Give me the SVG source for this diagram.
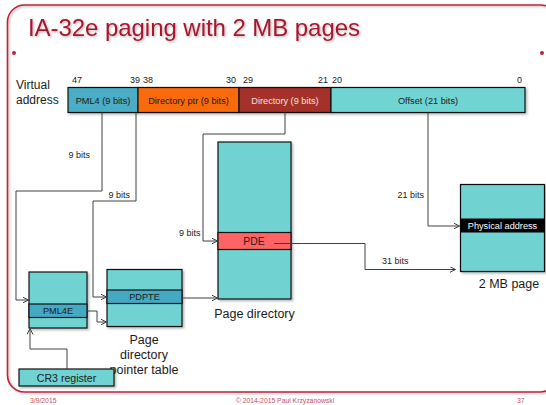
<svg xmlns="http://www.w3.org/2000/svg" width="546" height="405" viewBox="0 0 546 405">
<defs>
<style>
text{font-family:"Liberation Sans",Arial,sans-serif;fill:#1a1a1a}
.frame{fill:none;stroke:#b8283d;stroke-width:1.6}
.tbl{fill:#6fd3d1;stroke:#111;stroke-width:1.2}
.row{stroke:#111;stroke-width:1.2}
.bar{stroke:#111;stroke-width:1.2}
.conn{fill:none;stroke:#404040;stroke-width:1}
.bit{font-size:9px}
.lbl{font-size:9px}
.cap{font-size:12.5px}
.foot{font-size:6.8px;fill:#c8505a}
</style>
<marker id="arr" markerWidth="8" markerHeight="8" refX="6" refY="3" orient="auto" markerUnits="userSpaceOnUse">
<path d="M0,0 L6,3 L0,6" fill="none" stroke="#404040" stroke-width="1"/>
</marker>
<filter id="sh" x="-10%" y="-10%" width="130%" height="130%">
<feDropShadow dx="1.5" dy="1.5" stdDeviation="1" flood-color="#000" flood-opacity="0.3"/>
</filter>
<filter id="tsh" x="-5%" y="-20%" width="110%" height="150%">
<feDropShadow dx="1.2" dy="1.2" stdDeviation="0.8" flood-color="#000" flood-opacity="0.3"/>
</filter>
</defs>

<g id="frame">
<rect class="frame" x="7.5" y="5" width="550" height="387" rx="17" filter="url(#tsh)"/>
<line x1="14" y1="53" x2="542" y2="53" stroke="#b8283d" stroke-width="1.6" filter="url(#tsh)"/>
<circle cx="14" cy="53" r="2" fill="#b8283d"/>
<circle cx="542" cy="53" r="2" fill="#b8283d"/>
<text x="28" y="36" font-size="24" style="fill:#a6192e" filter="url(#tsh)" textLength="332">IA-32e paging with 2 MB pages</text>
</g>

<g id="virtual-address">
<text x="16" y="89" font-size="12">Virtual</text>
<text x="16" y="104" font-size="12">address</text>
<g filter="url(#sh)">
<rect class="bar" x="68" y="87.5" width="70" height="25" fill="#4bacc6"/>
<rect class="bar" x="138" y="87.5" width="101" height="25" fill="#f96b0c"/>
<rect class="bar" x="239" y="87.5" width="92" height="25" fill="#a5302a"/>
<rect class="bar" x="331" y="87.5" width="194" height="25" fill="#70d4d2"/>
</g>
<text x="103" y="104" font-size="9.2" text-anchor="middle">PML4 (9 bits)</text>
<text x="188.5" y="104" font-size="9.2" text-anchor="middle">Directory ptr (9 bits)</text>
<text x="285" y="104" font-size="9.2" text-anchor="middle" style="fill:#f4e0dc">Directory (9 bits)</text>
<text x="428" y="104" font-size="9.2" text-anchor="middle">Offset (21 bits)</text>
<text class="bit" x="72" y="83">47</text>
<text class="bit" x="130" y="83">39</text>
<text class="bit" x="143" y="83">38</text>
<text class="bit" x="226" y="83">30</text>
<text class="bit" x="243" y="83">29</text>
<text class="bit" x="318" y="83">21</text>
<text class="bit" x="332" y="83">20</text>
<text class="bit" x="517" y="83">0</text>
</g>

<g id="pml4-table">
<rect class="tbl" x="29" y="272" width="58" height="56" filter="url(#sh)"/>
<rect class="row" x="29" y="304" width="58" height="13.5" fill="#45a9c4"/>
<text x="58" y="314" font-size="9.2" text-anchor="middle">PML4E</text>
</g>

<g id="pdpt">
<rect class="tbl" x="107" y="269.5" width="75" height="57" filter="url(#sh)"/>
<rect class="row" x="107" y="290" width="75" height="13.5" fill="#45a9c4"/>
<text x="144.5" y="300" font-size="9.2" text-anchor="middle">PDPTE</text>
<text class="cap" x="144" y="344" text-anchor="middle">Page</text>
<text class="cap" x="144" y="359" text-anchor="middle">directory</text>
<text class="cap" x="144" y="374" text-anchor="middle">pointer table</text>
</g>

<g id="page-directory">
<rect class="tbl" x="218" y="142" width="73" height="157" filter="url(#sh)"/>
<rect class="row" x="218" y="232.5" width="73" height="17" fill="#ff6464"/>
<text x="254" y="245" font-size="10.4" text-anchor="middle">PDE</text>
<text class="cap" x="254.5" y="318" text-anchor="middle">Page directory</text>
</g>

<g id="page-2mb">
<rect class="tbl" x="460.5" y="184.5" width="84" height="87" filter="url(#sh)"/>
<rect x="460.5" y="218.5" width="84" height="14" fill="#000"/>
<text x="502.5" y="229" font-size="9.2" text-anchor="middle" style="fill:#fff">Physical address</text>
<text class="cap" x="509" y="287.5" text-anchor="middle">2 MB page</text>
</g>

<g id="cr3">
<rect class="tbl" x="19" y="369" width="95" height="17" filter="url(#sh)"/>
<text x="66.5" y="381.5" font-size="10.6" text-anchor="middle">CR3 register</text>
</g>

<g id="connectors">
<polyline class="conn" points="102,112.5 102,191 16,191 16,300 28.5,300" marker-end="url(#arr)"/>
<polyline class="conn" points="136,112.5 136,201 93,201 93,297 106.5,297" marker-end="url(#arr)"/>
<polyline class="conn" points="285,112.5 285,134 203,134 203,241 217.5,241" marker-end="url(#arr)"/>
<polyline class="conn" points="428,112.5 428,226 459.5,226" marker-end="url(#arr)"/>
<polyline class="conn" points="274,243.5 365,243.5 365,269.5 455.5,269.5" marker-end="url(#arr)"/>
<polyline class="conn" points="182,298 217.5,298" marker-end="url(#arr)"/>
<polyline class="conn" points="87,311 97,311 97,322 106.5,322" marker-end="url(#arr)"/>
<polyline class="conn" points="67,369 67,349 30,349 30,328.5" marker-end="url(#arr)"/>
<text class="lbl" x="90" y="158" text-anchor="end">9 bits</text>
<text class="lbl" x="130" y="198" text-anchor="end">9 bits</text>
<text class="lbl" x="200.5" y="236" text-anchor="end">9 bits</text>
<text class="lbl" x="424" y="198" text-anchor="end">21 bits</text>
<text class="lbl" x="382" y="264">31 bits</text>
</g>

<g id="footer">
<text class="foot" x="30" y="403">3/9/2015</text>
<text class="foot" x="285" y="403" text-anchor="middle">© 2014-2015 Paul Krzyzanowski</text>
<text class="foot" x="517" y="403">37</text>
</g>
</svg>
